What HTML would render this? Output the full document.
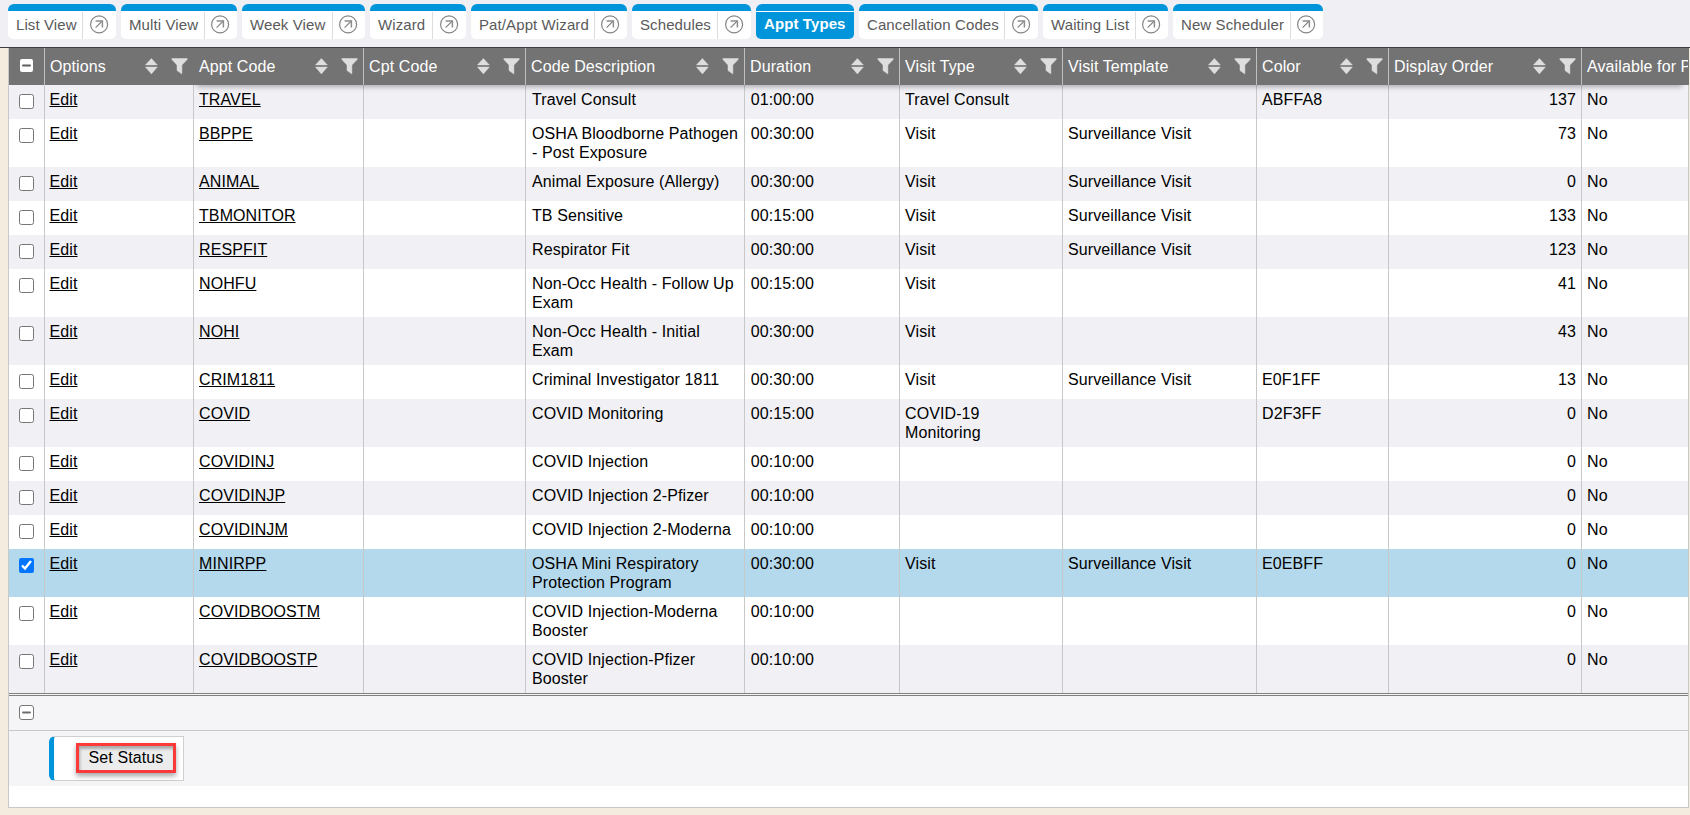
<!DOCTYPE html>
<html><head><meta charset="utf-8">
<style>
html,body{margin:0;padding:0;}
body{width:1690px;height:815px;overflow:hidden;background:#f4eddf;font-family:"Liberation Sans",sans-serif;position:relative;}
.tabbar{position:absolute;left:0;top:0;width:1690px;height:47px;background:#efeff4;border-bottom:1px solid #3e3e3e;}
.tab{position:absolute;top:4px;height:35px;box-sizing:border-box;background:#fff;border-top:7px solid #0095da;border-radius:6px 6px 5px 5px;font-size:15px;color:#5a5a5a;letter-spacing:0.1px;}
.tab .t{position:absolute;left:8px;top:5px;line-height:17px;white-space:nowrap;}
.tab .sep{position:absolute;top:1px;bottom:0;width:1px;background:#ddd;}
.tab svg{position:absolute;right:7px;top:3px;}
.tab.active{background:#0095da;color:#fff;font-weight:bold;}
.tab.active .t{top:4px;}
.tab.active:before{content:"";position:absolute;left:0;right:0;top:0;height:1px;background:#fff;}
.wrap{position:absolute;left:8px;top:48px;width:1679px;height:759px;border:1px solid #c8c8c8;border-top:0;background:#fff;overflow:hidden;}
table{border-collapse:separate;border-spacing:0;table-layout:fixed;font-size:16px;color:#000;width:1772px;letter-spacing:0.1px;}
th{background:#737373;color:#fff;font-weight:normal;text-align:left;height:37px;padding:0 0 0 5px;position:relative;border-left:1px solid #c0c0c0;white-space:nowrap;box-sizing:border-box;overflow:hidden;}
th .srt{position:absolute;right:35px;top:10px;}
th .flt{position:absolute;right:5px;top:10px;}
.hcb{position:absolute;left:11px;top:11px;width:13px;height:13px;background:#fff;border-radius:2px;}
.hcb i{position:absolute;left:2px;top:5px;width:9px;height:2px;background:#5f5f5f;border-radius:1px;transform:translateY(0.6px);}
td{vertical-align:top;padding:5px 5px 0 5px;line-height:19px;border-left:1px solid #c8c8c8;white-space:nowrap;box-sizing:border-box;overflow:hidden;}
th:first-child,td:first-child{border-left:0;}
th.nb{border-left-color:#737373;}
td.d{padding-left:6px;}
td.e{padding-left:4.5px;}
td.u{padding-left:5.8px;}
tr.r td{height:34px;}
tr.r2 td{height:48px;}
tr.g td{background:#f0f0f5;}
tr.sel td{background:#b4d8ec;}
td a{color:#000;text-decoration:underline;}
td.n{text-align:right;}
td.c{padding:0;position:relative;}
td.c input{position:absolute;left:10px;top:9px;margin:0;width:15px;height:15px;}
.foot1{position:absolute;left:0;top:645px;width:1679px;height:34px;background:#f5f5f8;border-top:3px double #808080;border-bottom:1px solid #c8c8c8;}
.fcb{position:absolute;left:10px;top:9px;width:13px;height:13px;border:1px solid #767676;border-radius:3px;background:#fff;}
.fcb i{position:absolute;left:2px;top:5px;width:9px;height:2px;background:#6e6e6e;border-radius:1px;transform:translateY(0.5px);}
.foot2{position:absolute;left:0;top:683px;width:1679px;height:55px;background:#f5f5f8;}
.grp{position:absolute;left:40px;top:5px;width:129px;height:43px;background:#fff;border:1px solid #cfcfcf;border-left:5px solid #0095da;border-radius:6px 0 0 6px;}
.btn{position:absolute;left:22px;top:6px;width:94px;height:24px;border:3px solid #fd3a3a;background:#ececec;box-shadow:0 3px 5px rgba(0,0,0,.35);}
.btn span{position:absolute;left:0;right:0;top:0;bottom:0;box-shadow:inset 1px 3px 3px rgba(0,0,0,.28);text-align:center;font-size:16px;line-height:24px;color:#000;letter-spacing:0.1px;}
.hshc{position:absolute;left:0;top:37px;width:1679px;height:12px;overflow:hidden;}
.hsh{position:absolute;left:188px;top:-37px;width:1485px;height:37px;box-shadow:0 2px 5px rgba(0,0,0,.28);}
.hext{position:absolute;left:1688px;top:48px;width:1px;height:37px;background:#737373;}
</style></head><body>
<div class="tabbar">
<div class="tab" style="left:8px;width:108px"><span class="t">List View</span><span class="sep" style="left:74px"></span><svg width="20" height="20" viewBox="0 0 20 20"><circle cx="10.1" cy="10.4" r="8.5" fill="none" stroke="#858585" stroke-width="1.2"/><path d="M6.6 13.6 L13.4 6.9" fill="none" stroke="#808080" stroke-width="1.2"/><path d="M6.6 6.9 H13.4 V13.6" fill="none" stroke="#8c8c8c" stroke-width="1.5"/></svg></div>
<div class="tab" style="left:121px;width:116px"><span class="t">Multi View</span><span class="sep" style="left:83px"></span><svg width="20" height="20" viewBox="0 0 20 20"><circle cx="10.1" cy="10.4" r="8.5" fill="none" stroke="#858585" stroke-width="1.2"/><path d="M6.6 13.6 L13.4 6.9" fill="none" stroke="#808080" stroke-width="1.2"/><path d="M6.6 6.9 H13.4 V13.6" fill="none" stroke="#8c8c8c" stroke-width="1.5"/></svg></div>
<div class="tab" style="left:242px;width:123px"><span class="t">Week View</span><span class="sep" style="left:90px"></span><svg width="20" height="20" viewBox="0 0 20 20"><circle cx="10.1" cy="10.4" r="8.5" fill="none" stroke="#858585" stroke-width="1.2"/><path d="M6.6 13.6 L13.4 6.9" fill="none" stroke="#808080" stroke-width="1.2"/><path d="M6.6 6.9 H13.4 V13.6" fill="none" stroke="#8c8c8c" stroke-width="1.5"/></svg></div>
<div class="tab" style="left:370px;width:96px"><span class="t">Wizard</span><span class="sep" style="left:62px"></span><svg width="20" height="20" viewBox="0 0 20 20"><circle cx="10.1" cy="10.4" r="8.5" fill="none" stroke="#858585" stroke-width="1.2"/><path d="M6.6 13.6 L13.4 6.9" fill="none" stroke="#808080" stroke-width="1.2"/><path d="M6.6 6.9 H13.4 V13.6" fill="none" stroke="#8c8c8c" stroke-width="1.5"/></svg></div>
<div class="tab" style="left:471px;width:156px"><span class="t">Pat/Appt Wizard</span><span class="sep" style="left:123px"></span><svg width="20" height="20" viewBox="0 0 20 20"><circle cx="10.1" cy="10.4" r="8.5" fill="none" stroke="#858585" stroke-width="1.2"/><path d="M6.6 13.6 L13.4 6.9" fill="none" stroke="#808080" stroke-width="1.2"/><path d="M6.6 6.9 H13.4 V13.6" fill="none" stroke="#8c8c8c" stroke-width="1.5"/></svg></div>
<div class="tab" style="left:632px;width:119px"><span class="t">Schedules</span><span class="sep" style="left:85px"></span><svg width="20" height="20" viewBox="0 0 20 20"><circle cx="10.1" cy="10.4" r="8.5" fill="none" stroke="#858585" stroke-width="1.2"/><path d="M6.6 13.6 L13.4 6.9" fill="none" stroke="#808080" stroke-width="1.2"/><path d="M6.6 6.9 H13.4 V13.6" fill="none" stroke="#8c8c8c" stroke-width="1.5"/></svg></div>
<div class="tab active" style="left:756px;width:98px"><span class="t">Appt Types</span></div>
<div class="tab" style="left:859px;width:179px"><span class="t">Cancellation Codes</span><span class="sep" style="left:145px"></span><svg width="20" height="20" viewBox="0 0 20 20"><circle cx="10.1" cy="10.4" r="8.5" fill="none" stroke="#858585" stroke-width="1.2"/><path d="M6.6 13.6 L13.4 6.9" fill="none" stroke="#808080" stroke-width="1.2"/><path d="M6.6 6.9 H13.4 V13.6" fill="none" stroke="#8c8c8c" stroke-width="1.5"/></svg></div>
<div class="tab" style="left:1043px;width:125px"><span class="t">Waiting List</span><span class="sep" style="left:92px"></span><svg width="20" height="20" viewBox="0 0 20 20"><circle cx="10.1" cy="10.4" r="8.5" fill="none" stroke="#858585" stroke-width="1.2"/><path d="M6.6 13.6 L13.4 6.9" fill="none" stroke="#808080" stroke-width="1.2"/><path d="M6.6 6.9 H13.4 V13.6" fill="none" stroke="#8c8c8c" stroke-width="1.5"/></svg></div>
<div class="tab" style="left:1173px;width:150px"><span class="t">New Scheduler</span><span class="sep" style="left:117px"></span><svg width="20" height="20" viewBox="0 0 20 20"><circle cx="10.1" cy="10.4" r="8.5" fill="none" stroke="#858585" stroke-width="1.2"/><path d="M6.6 13.6 L13.4 6.9" fill="none" stroke="#808080" stroke-width="1.2"/><path d="M6.6 6.9 H13.4 V13.6" fill="none" stroke="#8c8c8c" stroke-width="1.5"/></svg></div>
</div>
<div class="wrap">
<table><colgroup><col style="width:35px"><col style="width:149px"><col style="width:170px"><col style="width:162px"><col style="width:219px"><col style="width:155px"><col style="width:163px"><col style="width:194px"><col style="width:132px"><col style="width:193px"><col style="width:200px"></colgroup>
<tr class="hd"><th><span class="hcb"><i></i></span></th><th>Options<svg class="srt" width="13" height="17" viewBox="0 0 13 17"><path d="M0.5 6.9 L6.4 0.5 L12.3 6.9 Z M0.5 9.1 L12.3 9.1 L6.4 15.9 Z" fill="#dedede" stroke="#dedede" stroke-width="0.5" stroke-linejoin="round"/></svg><svg class="flt" width="17" height="17" viewBox="0 0 17 17"><path d="M0.9 0.5 H16.2 V1.5 L10.9 7 V15.7 L10.6 15.8 L6 12.5 V7 L0.9 1.6 Z" fill="#dedede" stroke="#dedede" stroke-width="0.5" stroke-linejoin="round"/></svg></th><th class="nb">Appt Code<svg class="srt" width="13" height="17" viewBox="0 0 13 17"><path d="M0.5 6.9 L6.4 0.5 L12.3 6.9 Z M0.5 9.1 L12.3 9.1 L6.4 15.9 Z" fill="#dedede" stroke="#dedede" stroke-width="0.5" stroke-linejoin="round"/></svg><svg class="flt" width="17" height="17" viewBox="0 0 17 17"><path d="M0.9 0.5 H16.2 V1.5 L10.9 7 V15.7 L10.6 15.8 L6 12.5 V7 L0.9 1.6 Z" fill="#dedede" stroke="#dedede" stroke-width="0.5" stroke-linejoin="round"/></svg></th><th>Cpt Code<svg class="srt" width="13" height="17" viewBox="0 0 13 17"><path d="M0.5 6.9 L6.4 0.5 L12.3 6.9 Z M0.5 9.1 L12.3 9.1 L6.4 15.9 Z" fill="#dedede" stroke="#dedede" stroke-width="0.5" stroke-linejoin="round"/></svg><svg class="flt" width="17" height="17" viewBox="0 0 17 17"><path d="M0.9 0.5 H16.2 V1.5 L10.9 7 V15.7 L10.6 15.8 L6 12.5 V7 L0.9 1.6 Z" fill="#dedede" stroke="#dedede" stroke-width="0.5" stroke-linejoin="round"/></svg></th><th>Code Description<svg class="srt" width="13" height="17" viewBox="0 0 13 17"><path d="M0.5 6.9 L6.4 0.5 L12.3 6.9 Z M0.5 9.1 L12.3 9.1 L6.4 15.9 Z" fill="#dedede" stroke="#dedede" stroke-width="0.5" stroke-linejoin="round"/></svg><svg class="flt" width="17" height="17" viewBox="0 0 17 17"><path d="M0.9 0.5 H16.2 V1.5 L10.9 7 V15.7 L10.6 15.8 L6 12.5 V7 L0.9 1.6 Z" fill="#dedede" stroke="#dedede" stroke-width="0.5" stroke-linejoin="round"/></svg></th><th>Duration<svg class="srt" width="13" height="17" viewBox="0 0 13 17"><path d="M0.5 6.9 L6.4 0.5 L12.3 6.9 Z M0.5 9.1 L12.3 9.1 L6.4 15.9 Z" fill="#dedede" stroke="#dedede" stroke-width="0.5" stroke-linejoin="round"/></svg><svg class="flt" width="17" height="17" viewBox="0 0 17 17"><path d="M0.9 0.5 H16.2 V1.5 L10.9 7 V15.7 L10.6 15.8 L6 12.5 V7 L0.9 1.6 Z" fill="#dedede" stroke="#dedede" stroke-width="0.5" stroke-linejoin="round"/></svg></th><th>Visit Type<svg class="srt" width="13" height="17" viewBox="0 0 13 17"><path d="M0.5 6.9 L6.4 0.5 L12.3 6.9 Z M0.5 9.1 L12.3 9.1 L6.4 15.9 Z" fill="#dedede" stroke="#dedede" stroke-width="0.5" stroke-linejoin="round"/></svg><svg class="flt" width="17" height="17" viewBox="0 0 17 17"><path d="M0.9 0.5 H16.2 V1.5 L10.9 7 V15.7 L10.6 15.8 L6 12.5 V7 L0.9 1.6 Z" fill="#dedede" stroke="#dedede" stroke-width="0.5" stroke-linejoin="round"/></svg></th><th>Visit Template<svg class="srt" width="13" height="17" viewBox="0 0 13 17"><path d="M0.5 6.9 L6.4 0.5 L12.3 6.9 Z M0.5 9.1 L12.3 9.1 L6.4 15.9 Z" fill="#dedede" stroke="#dedede" stroke-width="0.5" stroke-linejoin="round"/></svg><svg class="flt" width="17" height="17" viewBox="0 0 17 17"><path d="M0.9 0.5 H16.2 V1.5 L10.9 7 V15.7 L10.6 15.8 L6 12.5 V7 L0.9 1.6 Z" fill="#dedede" stroke="#dedede" stroke-width="0.5" stroke-linejoin="round"/></svg></th><th>Color<svg class="srt" width="13" height="17" viewBox="0 0 13 17"><path d="M0.5 6.9 L6.4 0.5 L12.3 6.9 Z M0.5 9.1 L12.3 9.1 L6.4 15.9 Z" fill="#dedede" stroke="#dedede" stroke-width="0.5" stroke-linejoin="round"/></svg><svg class="flt" width="17" height="17" viewBox="0 0 17 17"><path d="M0.9 0.5 H16.2 V1.5 L10.9 7 V15.7 L10.6 15.8 L6 12.5 V7 L0.9 1.6 Z" fill="#dedede" stroke="#dedede" stroke-width="0.5" stroke-linejoin="round"/></svg></th><th>Display Order<svg class="srt" width="13" height="17" viewBox="0 0 13 17"><path d="M0.5 6.9 L6.4 0.5 L12.3 6.9 Z M0.5 9.1 L12.3 9.1 L6.4 15.9 Z" fill="#dedede" stroke="#dedede" stroke-width="0.5" stroke-linejoin="round"/></svg><svg class="flt" width="17" height="17" viewBox="0 0 17 17"><path d="M0.9 0.5 H16.2 V1.5 L10.9 7 V15.7 L10.6 15.8 L6 12.5 V7 L0.9 1.6 Z" fill="#dedede" stroke="#dedede" stroke-width="0.5" stroke-linejoin="round"/></svg></th><th>Available for Patient</th></tr>
<tr class="r g"><td class="c"><input type="checkbox"></td><td class="e"><a>Edit</a></td><td><a>TRAVEL</a></td><td></td><td class="d">Travel Consult</td><td class="u">01:00:00</td><td>Travel Consult</td><td></td><td>ABFFA8</td><td class="n">137</td><td>No</td></tr>
<tr class="r2"><td class="c"><input type="checkbox"></td><td class="e"><a>Edit</a></td><td><a>BBPPE</a></td><td></td><td class="d">OSHA Bloodborne Pathogen<br>- Post Exposure</td><td class="u">00:30:00</td><td>Visit</td><td>Surveillance Visit</td><td></td><td class="n">73</td><td>No</td></tr>
<tr class="r g"><td class="c"><input type="checkbox"></td><td class="e"><a>Edit</a></td><td><a>ANIMAL</a></td><td></td><td class="d">Animal Exposure (Allergy)</td><td class="u">00:30:00</td><td>Visit</td><td>Surveillance Visit</td><td></td><td class="n">0</td><td>No</td></tr>
<tr class="r"><td class="c"><input type="checkbox"></td><td class="e"><a>Edit</a></td><td><a>TBMONITOR</a></td><td></td><td class="d">TB Sensitive</td><td class="u">00:15:00</td><td>Visit</td><td>Surveillance Visit</td><td></td><td class="n">133</td><td>No</td></tr>
<tr class="r g"><td class="c"><input type="checkbox"></td><td class="e"><a>Edit</a></td><td><a>RESPFIT</a></td><td></td><td class="d">Respirator Fit</td><td class="u">00:30:00</td><td>Visit</td><td>Surveillance Visit</td><td></td><td class="n">123</td><td>No</td></tr>
<tr class="r2"><td class="c"><input type="checkbox"></td><td class="e"><a>Edit</a></td><td><a>NOHFU</a></td><td></td><td class="d">Non-Occ Health - Follow Up<br>Exam</td><td class="u">00:15:00</td><td>Visit</td><td></td><td></td><td class="n">41</td><td>No</td></tr>
<tr class="r2 g"><td class="c"><input type="checkbox"></td><td class="e"><a>Edit</a></td><td><a>NOHI</a></td><td></td><td class="d">Non-Occ Health - Initial<br>Exam</td><td class="u">00:30:00</td><td>Visit</td><td></td><td></td><td class="n">43</td><td>No</td></tr>
<tr class="r"><td class="c"><input type="checkbox"></td><td class="e"><a>Edit</a></td><td><a>CRIM1811</a></td><td></td><td class="d">Criminal Investigator 1811</td><td class="u">00:30:00</td><td>Visit</td><td>Surveillance Visit</td><td>E0F1FF</td><td class="n">13</td><td>No</td></tr>
<tr class="r2 g"><td class="c"><input type="checkbox"></td><td class="e"><a>Edit</a></td><td><a>COVID</a></td><td></td><td class="d">COVID Monitoring</td><td class="u">00:15:00</td><td>COVID-19<br>Monitoring</td><td></td><td>D2F3FF</td><td class="n">0</td><td>No</td></tr>
<tr class="r"><td class="c"><input type="checkbox"></td><td class="e"><a>Edit</a></td><td><a>COVIDINJ</a></td><td></td><td class="d">COVID Injection</td><td class="u">00:10:00</td><td></td><td></td><td></td><td class="n">0</td><td>No</td></tr>
<tr class="r g"><td class="c"><input type="checkbox"></td><td class="e"><a>Edit</a></td><td><a>COVIDINJP</a></td><td></td><td class="d">COVID Injection 2-Pfizer</td><td class="u">00:10:00</td><td></td><td></td><td></td><td class="n">0</td><td>No</td></tr>
<tr class="r"><td class="c"><input type="checkbox"></td><td class="e"><a>Edit</a></td><td><a>COVIDINJM</a></td><td></td><td class="d">COVID Injection 2-Moderna</td><td class="u">00:10:00</td><td></td><td></td><td></td><td class="n">0</td><td>No</td></tr>
<tr class="r2 sel"><td class="c"><input type="checkbox" checked></td><td class="e"><a>Edit</a></td><td><a>MINIRPP</a></td><td></td><td class="d">OSHA Mini Respiratory<br>Protection Program</td><td class="u">00:30:00</td><td>Visit</td><td>Surveillance Visit</td><td>E0EBFF</td><td class="n">0</td><td>No</td></tr>
<tr class="r2"><td class="c"><input type="checkbox"></td><td class="e"><a>Edit</a></td><td><a>COVIDBOOSTM</a></td><td></td><td class="d">COVID Injection-Moderna<br>Booster</td><td class="u">00:10:00</td><td></td><td></td><td></td><td class="n">0</td><td>No</td></tr>
<tr class="r2 g"><td class="c"><input type="checkbox"></td><td class="e"><a>Edit</a></td><td><a>COVIDBOOSTP</a></td><td></td><td class="d">COVID Injection-Pfizer<br>Booster</td><td class="u">00:10:00</td><td></td><td></td><td></td><td class="n">0</td><td>No</td></tr>
</table>
<div class="hshc"><div class="hsh"></div></div>
<div class="foot1"><span class="fcb"><i></i></span></div>
<div class="foot2"><div class="grp"><div class="btn"><span>Set Status</span></div></div></div>
</div>
<div class="hext"></div>
</body></html>
